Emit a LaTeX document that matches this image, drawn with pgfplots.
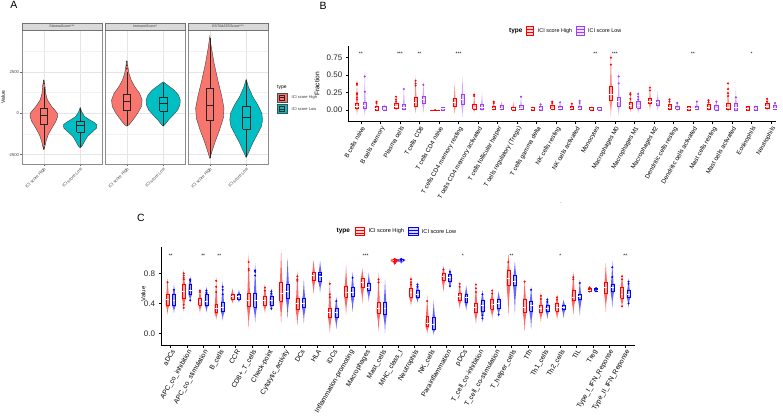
\documentclass[border=0pt]{standalone}
\usepackage{fontspec}
\setmainfont{Liberation Sans}
\usepackage{pgfplots}
\pgfplotsset{compat=1.18}
\newcommand\fs[1]{\fontsize{#1}{#1}\selectfont}
\definecolor{Ared}{HTML}{F8766D}
\definecolor{Acyan}{HTML}{00BFC4}
\definecolor{Bred}{HTML}{FF0000}
\definecolor{Bpur}{HTML}{9B40F5}
\definecolor{Cred}{HTML}{FF0000}
\definecolor{Cblue}{HTML}{0000FF}
\def\bw{0.1}
\def\vop{0.5}
% violin + box: #1 cat, #2 offset, #3 min, #4 q1, #5 med, #6 q3, #7 max, #8 colour, #9 violin half width
\newcommand\grp[9]{%
 \pgfmathsetmacro\gx{#1+#2}%
 \pgfmathsetmacro\gxa{\gx-#9}\pgfmathsetmacro\gxb{\gx+#9}%
 \pgfmathsetmacro\gxc{\gx-0.3*#9}\pgfmathsetmacro\gxd{\gx+0.3*#9}%
 \pgfmathsetmacro\gxe{\gx-0.7*#9}\pgfmathsetmacro\gxf{\gx+0.7*#9}%
 \pgfmathsetmacro\gya{(#3+#4)/2}\pgfmathsetmacro\gyb{(#6+#7)/2}%
 \pgfmathsetmacro\gbl{\gx-\bw}\pgfmathsetmacro\gbr{\gx+\bw}%
 \edef\gtmp{%
  \noexpand\addplot[fill=#8,fill opacity=\vop,draw=none,forget plot] coordinates {(\gx,#3) (\gxd,\gya) (\gxb,#4) (\gxb,#5) (\gxf,#6) (\gxd,\gyb) (\gx,#7) (\gxc,\gyb) (\gxe,#6) (\gxa,#5) (\gxa,#4) (\gxc,\gya) (\gx,#3)};
  \noexpand\addplot[fill=#8!30,draw=#8,line width=0.4pt,forget plot] coordinates {(\gbl,#4) (\gbr,#4) (\gbr,#6) (\gbl,#6) (\gbl,#4)};
  \noexpand\addplot[draw=white,line width=0.4pt,forget plot] coordinates {(\gbl,#5) (\gbr,#5)};
 }\gtmp}
% panel A box: x lo q1 med q3 hi
\newcommand\abx[6]{%
 \pgfmathsetmacro\axl{#1-0.1}\pgfmathsetmacro\axr{#1+0.1}%
 \edef\atmp{%
  \noexpand\addplot[black!85,line width=0.4pt,forget plot] coordinates {(#1,#2) (#1,#3)};
  \noexpand\addplot[black!85,line width=0.4pt,forget plot] coordinates {(#1,#5) (#1,#6)};
  \noexpand\addplot[black!85,line width=0.4pt,forget plot] coordinates {(\axl,#3) (\axr,#3) (\axr,#5) (\axl,#5) (\axl,#3)};
  \noexpand\addplot[black!85,line width=0.8pt,forget plot] coordinates {(\axl,#4) (\axr,#4)};
 }\atmp}
\pgfplotsset{
 afacet/.style={
  scale only axis, width=80pt, height=133.5pt, anchor=south west,
  xmin=0.4, xmax=2.6, ymin=-3069, ymax=5000,
  axis line style={draw=black!45, line width=0.5pt},
  xtick={1,2}, xticklabels={ICI score High,ICI score Low},
  xticklabel style={rotate=45, anchor=north east, font=\fs{4.2}, text=black!75, inner sep=1pt},
  ytick={-2500,0,2500}, minor ytick={-1250,1250,3750},
  yticklabels={-2500,0,2500},
  yticklabel style={font=\fs{4.2}, text=black!75, inner sep=1pt},
  xmajorgrids, ymajorgrids, yminorgrids,
  major grid style={draw=black!10, line width=0.5pt},
  minor grid style={draw=black!5, line width=0.3pt},
  tick align=outside, xtick pos=bottom, ytick pos=left,
  major tick length=1.8pt, minor tick length=0pt,
  tick style={draw=black!60, line width=0.4pt},
 },
 vio/.style={fill=#1, draw=black!75, line width=0.4pt, forget plot},
}
\begin{document}
\begin{tikzpicture}
\path[use as bounding box] (0,0) rectangle (783pt,418pt);
% ---------------- Panel A ----------------
\begin{axis}[afacet, at={(22pt,254pt)}]
\addplot[vio=Ared] coordinates {(1,-2200) (1.03,-2000) (1.06,-1700) (1.12,-1300) (1.22,-900) (1.33,-500) (1.38,-200) (1.37,0) (1.30,200) (1.22,400) (1.10,800) (1.05,1200) (1.03,1700) (1,2000) (0.97,1700) (0.95,1200) (0.90,800) (0.78,400) (0.70,200) (0.63,0) (0.62,-200) (0.67,-500) (0.78,-900) (0.88,-1300) (0.94,-1700) (0.97,-2000) (1,-2200)};
\addplot[vio=Acyan] coordinates {(2,-2100) (2.06,-1950) (2.12,-1700) (2.20,-1400) (2.35,-1100) (2.45,-900) (2.46,-700) (2.38,-550) (2.30,-450) (2.12,-200) (2.04,100) (2,350) (1.96,100) (1.88,-200) (1.70,-450) (1.62,-550) (1.54,-700) (1.55,-900) (1.65,-1100) (1.80,-1400) (1.88,-1700) (1.94,-1950) (2,-2100)};
\abx{1}{-1900}{-640}{-140}{300}{1600}
\abx{2}{-2050}{-1160}{-760}{-500}{300}
\addplot[only marks, mark=*, mark size=0.6pt, black!80, forget plot] coordinates {(1,1800) (1,1950) (1,-2050) (1,-2150)};
\end{axis}
\begin{axis}[afacet, at={(105pt,254pt)}, yticklabels={}, ytick style={draw=none}]
\addplot[vio=Ared] coordinates {(1,-780) (1.06,-700) (1.17,-400) (1.30,0) (1.40,400) (1.42,800) (1.35,1200) (1.22,1600) (1.12,2000) (1.06,2400) (1.03,2800) (1,3150) (0.97,2800) (0.94,2400) (0.88,2000) (0.78,1600) (0.65,1200) (0.58,800) (0.60,400) (0.70,0) (0.83,-400) (0.94,-700) (1,-780)};
\addplot[vio=Acyan] coordinates {(2,-780) (2.04,-700) (2.15,-400) (2.28,-100) (2.40,200) (2.46,500) (2.47,800) (2.42,1100) (2.30,1400) (2.15,1650) (2.06,1800) (2,1900) (1.94,1800) (1.85,1650) (1.70,1400) (1.58,1100) (1.53,800) (1.54,500) (1.60,200) (1.72,-100) (1.85,-400) (1.96,-700) (2,-780)};
\abx{1}{-750}{200}{700}{1165}{2500}
\abx{2}{-750}{140}{600}{940}{1850}
\addplot[only marks, mark=*, mark size=0.6pt, black!80, forget plot] coordinates {(1,2700) (1,2900) (1,3100)};
\end{axis}
\begin{axis}[afacet, at={(188pt,254pt)}, yticklabels={}, ytick style={draw=none}]
\addplot[vio=Ared] coordinates {(1,-2740) (1.06,-2300) (1.15,-1700) (1.27,-1000) (1.37,-300) (1.39,300) (1.33,1000) (1.22,2000) (1.12,3000) (1.04,4000) (1,4650) (0.96,4000) (0.88,3000) (0.78,2000) (0.67,1000) (0.61,300) (0.63,-300) (0.73,-1000) (0.85,-1700) (0.94,-2300) (1,-2740)};
\addplot[vio=Acyan] coordinates {(2,-2680) (2.08,-2300) (2.18,-1800) (2.30,-1300) (2.42,-800) (2.45,-400) (2.43,0) (2.32,500) (2.18,1000) (2.06,1600) (2,2050) (1.94,1600) (1.82,1000) (1.68,500) (1.57,0) (1.55,-400) (1.58,-800) (1.70,-1300) (1.82,-1800) (1.92,-2300) (2,-2680)};
\abx{1}{-2700}{-450}{500}{1500}{4550}
\abx{2}{-2650}{-960}{-240}{400}{2000}
\end{axis}
% strips
\foreach \xa/\xb in {22/102, 105/185, 188/268}{
 \draw[fill=black!15, draw=black!55, line width=0.4pt] (\xa pt,387.5pt) rectangle (\xb pt,395pt);
}
\node[font=\fs{3.6}, text=black!75] at (62pt,391.25pt) {StromaScore***};
\node[font=\fs{3.6}, text=black!75] at (145pt,391.25pt) {ImmuneScore*};
\node[font=\fs{3.6}, text=black!75] at (228pt,391.25pt) {ESTIMATEScore***};
\node[font=\fs{5}, rotate=90] at (3pt,321pt) {Value};
% legend A
\node[font=\fs{5}, anchor=west, inner sep=0pt] at (277pt,330.5pt) {type};
\draw[fill=Ared, draw=black!70, line width=0.3pt] (277pt,316pt) rectangle (287pt,325.3pt);
\draw[black!85, line width=0.3pt] (279.5pt,318pt) rectangle (284.5pt,323.3pt) (279.5pt,320.6pt) -- (284.5pt,320.6pt);
\draw[fill=Acyan, draw=black!70, line width=0.3pt] (277pt,304.7pt) rectangle (287pt,314pt);
\draw[black!85, line width=0.3pt] (279.5pt,306.7pt) rectangle (284.5pt,312pt) (279.5pt,309.3pt) -- (284.5pt,309.3pt);
\node[font=\fs{4}, anchor=west, inner sep=0pt, text=black!80] at (291.5pt,320.6pt) {ICI score High};
\node[font=\fs{4}, anchor=west, inner sep=0pt, text=black!80] at (291.5pt,309.3pt) {ICI score Low};
% ---------------- Panel B ----------------
\begin{axis}[scale only axis, at={(348.3pt,296.3pt)}, anchor=south west,
 width=427.7pt, height=75.7pt, xmin=0.355, xmax=22.255, ymin=-0.168, ymax=0.917,
 axis lines*=left, axis line style={-, black, line width=0.6pt},
 tick align=outside, major tick length=2.5pt, tick style={black, line width=0.5pt},
 /pgf/number format/assume math mode=true,
 xtick={1,...,22},
 xticklabels={B cells naive, B cells memory, Plasma cells, T cells CD8, T cells CD4 naive, T cells CD4 memory resting, T cells CD4 memory activated, T cells follicular helper, T cells regulatory (Tregs), T cells gamma delta, NK cells resting, NK cells activated, Monocytes, Macrophages M0, Macrophages M1, Macrophages M2, Dendritic cells resting, Dendritic cells activated, Mast cells resting, Mast cells activated, Eosinophils, Neutrophils},
 xticklabel style={rotate=60, anchor=north east, font=\fs{6.2}, inner sep=1pt},
 ytick={0,0.25,0.5,0.75},
 yticklabel style={font=\fs{8}, text=black!85, /pgf/number format/.cd, fixed, fixed zerofill, precision=2},
 clip=false]
\def\bw{0.085}\def\vop{0.45}
\grp{1}{-0.2}{-0.07}{0.03}{0.05}{0.10}{0.43}{Bred}{0.06}
\grp{1}{0.2}{-0.08}{0.02}{0.07}{0.11}{0.55}{Bpur}{0.06}
\grp{2}{-0.2}{-0.02}{0.00}{0.02}{0.06}{0.13}{Bred}{0.06}
\grp{2}{0.2}{-0.02}{0.00}{0.03}{0.06}{0.08}{Bpur}{0.06}
\grp{3}{-0.2}{-0.01}{0.02}{0.05}{0.10}{0.20}{Bred}{0.06}
\grp{3}{0.2}{-0.02}{0.01}{0.04}{0.08}{0.36}{Bpur}{0.06}
\grp{4}{-0.2}{-0.05}{0.06}{0.11}{0.19}{0.50}{Bred}{0.06}
\grp{4}{0.2}{-0.05}{0.09}{0.15}{0.20}{0.43}{Bpur}{0.06}
\addplot[Bred, line width=0.7pt, forget plot] coordinates {(4.55,0) (5.05,0)};
\grp{5}{0.2}{-0.01}{0.00}{0.02}{0.04}{0.05}{Bpur}{0.06}
\grp{6}{-0.2}{-0.06}{0.06}{0.11}{0.17}{0.38}{Bred}{0.06}
\grp{6}{0.2}{-0.11}{0.08}{0.15}{0.22}{0.49}{Bpur}{0.06}
\grp{7}{-0.2}{-0.04}{0.01}{0.04}{0.08}{0.27}{Bred}{0.06}
\grp{7}{0.2}{-0.03}{0.01}{0.04}{0.08}{0.26}{Bpur}{0.06}
\grp{8}{-0.2}{-0.01}{0.01}{0.03}{0.06}{0.13}{Bred}{0.06}
\grp{8}{0.2}{-0.01}{0.01}{0.03}{0.07}{0.13}{Bpur}{0.06}
\grp{9}{-0.2}{-0.01}{0.00}{0.02}{0.04}{0.12}{Bred}{0.06}
\grp{9}{0.2}{-0.01}{0.01}{0.03}{0.07}{0.20}{Bpur}{0.06}
\grp{10}{-0.2}{-0.01}{0.00}{0.02}{0.04}{0.05}{Bred}{0.06}
\grp{10}{0.2}{-0.01}{0.00}{0.02}{0.05}{0.09}{Bpur}{0.06}
\grp{11}{-0.2}{-0.01}{0.01}{0.03}{0.07}{0.13}{Bred}{0.06}
\grp{11}{0.2}{-0.02}{0.01}{0.03}{0.06}{0.12}{Bpur}{0.06}
\grp{12}{-0.2}{-0.01}{0.01}{0.03}{0.06}{0.10}{Bred}{0.06}
\grp{12}{0.2}{-0.01}{0.01}{0.03}{0.06}{0.16}{Bpur}{0.06}
\grp{13}{-0.2}{0.00}{0.00}{0.02}{0.04}{0.05}{Bred}{0.06}
\grp{13}{0.2}{0.00}{0.00}{0.02}{0.04}{0.05}{Bpur}{0.06}
\grp{14}{-0.2}{-0.12}{0.14}{0.22}{0.34}{0.88}{Bred}{0.07}
\grp{14}{0.2}{-0.08}{0.06}{0.12}{0.18}{0.57}{Bpur}{0.06}
\grp{15}{-0.2}{-0.03}{0.03}{0.07}{0.11}{0.27}{Bred}{0.06}
\grp{15}{0.2}{-0.05}{0.03}{0.07}{0.12}{0.27}{Bpur}{0.06}
\grp{16}{-0.2}{-0.01}{0.09}{0.12}{0.17}{0.37}{Bred}{0.06}
\grp{16}{0.2}{-0.02}{0.07}{0.11}{0.14}{0.27}{Bpur}{0.06}
\grp{17}{-0.2}{-0.01}{0.01}{0.04}{0.08}{0.17}{Bred}{0.06}
\grp{17}{0.2}{-0.02}{0.01}{0.03}{0.06}{0.12}{Bpur}{0.06}
\grp{18}{-0.2}{-0.01}{0.00}{0.02}{0.05}{0.06}{Bred}{0.06}
\grp{18}{0.2}{-0.01}{0.01}{0.03}{0.06}{0.14}{Bpur}{0.06}
\grp{19}{-0.2}{-0.01}{0.01}{0.04}{0.08}{0.16}{Bred}{0.06}
\grp{19}{0.2}{-0.02}{0.00}{0.03}{0.07}{0.15}{Bpur}{0.06}
\grp{20}{-0.2}{-0.03}{0.01}{0.04}{0.10}{0.43}{Bred}{0.06}
\grp{20}{0.2}{-0.03}{0.00}{0.04}{0.09}{0.32}{Bpur}{0.06}
\grp{21}{-0.2}{0.00}{0.00}{0.02}{0.05}{0.06}{Bred}{0.06}
\grp{21}{0.2}{0.00}{0.00}{0.02}{0.05}{0.07}{Bpur}{0.06}
\grp{22}{-0.2}{-0.01}{0.02}{0.05}{0.09}{0.18}{Bred}{0.06}
\grp{22}{0.2}{-0.01}{0.01}{0.03}{0.07}{0.12}{Bpur}{0.06}
\addplot[only marks, mark=*, mark size=0.8pt, Bred, forget plot] coordinates {(0.8,0.38)(0.8,0.36)(0.8,0.24)(0.8,0.22)(0.8,0.18)(0.8,0.15)(1.8,0.12)(1.8,0.10)(2.8,0.19)(2.8,0.15)(2.8,0.12)(3.8,0.42)(3.8,0.38)(3.8,0.35)(4.8,0)(6.8,0.22)(6.8,0.20)(7.8,0.12)(7.8,0.10)(10.8,0.12)(10.8,0.10)(11.8,0.09)(13.8,0.75)(13.8,0.65)(14.8,0.24)(14.8,0.22)(14.8,0.16)(15.8,0.32)(15.8,0.28)(16.8,0.15)(16.8,0.12)(18.8,0.14)(18.8,0.11)(19.8,0.38)(19.8,0.30)(19.8,0.24)(19.8,0.20)(21.8,0.16)(21.8,0.12)};
\addplot[only marks, mark=*, mark size=0.8pt, Bpur, forget plot] coordinates {(1.2,0.48)(1.2,0.26)(3.2,0.30)(4.2,0.36)(9.2,0.19)(10.2,0.08)(11.2,0.11)(12.2,0.13)(12.2,0.10)(14.2,0.48)(14.2,0.38)(15.2,0.23)(15.2,0.19)(15.2,0.15)(17.2,0.10)(18.2,0.12)(19.2,0.12)(20.2,0.18)(22.2,0.10)};
\foreach \xs/\st in {1/**,3/***,4/**,6/***,13/**,14/***,18/**,21/*}{
 \edef\tmp{\noexpand\node[font=\noexpand\fs{5}] at (axis cs:\xs,0.80) {\st};}\tmp
}
\end{axis}
\node[font=\fs{6.6}, rotate=90] at (317pt,334pt) {Fraction};
\node[font=\bfseries\fs{6.5}, anchor=west, inner sep=0pt] at (509pt,387pt) {type};
\draw[Bred, line width=0.6pt, fill=Bred!15] (526pt,382.7pt) rectangle (533pt,391.3pt);
\draw[Bred, line width=0.4pt] (526pt,385.5pt) -- (533pt,385.5pt) (526pt,388.5pt) -- (533pt,388.5pt);
\node[font=\fs{5.4}, anchor=west, inner sep=0pt] at (537.7pt,387pt) {ICI score High};
\draw[Bpur, line width=0.6pt, fill=Bpur!15] (576pt,382.7pt) rectangle (584pt,391.3pt);
\draw[Bpur, line width=0.4pt] (576pt,385.5pt) -- (584pt,385.5pt) (576pt,388.5pt) -- (584pt,388.5pt);
\node[font=\fs{5.4}, anchor=west, inner sep=0pt] at (588pt,387pt) {ICI score Low};
\node[font=\fs{5}] at (561pt,215pt) {.};
% ---------------- Panel C ----------------
\begin{axis}[scale only axis, at={(161pt,73pt)}, anchor=south west,
 width=474pt, height=98.3pt, xmin=0.4, xmax=29.6, ymin=-0.156, ymax=1.155,
 axis lines*=left, axis line style={-, black, line width=0.6pt},
 tick align=outside, major tick length=2.5pt, tick style={black, line width=0.5pt},
 /pgf/number format/assume math mode=true,
 xtick={1,...,29},
 xticklabels={aDCs, APC\_co\_inhibition, APC\_co\_stimulation, B\_cells, CCR, CD8+\_T\_cells, Check-point, Cytolytic\_activity, DCs, HLA, iDCs, Inflammation-promoting, Macrophages, Mast\_cells, MHC\_class\_I, Neutrophils, NK\_cells, Parainflammation, pDCs, T\_cell\_co-inhibition, T\_cell\_co-stimulation, T\_helper\_cells, Tfh, Th1\_cells, Th2\_cells, TIL, Treg, Type\_I\_IFN\_Reponse, Type\_II\_IFN\_Reponse},
 xticklabel style={rotate=60, anchor=north east, font=\fs{6.8}, inner sep=1pt},
 ytick={0,0.4,0.8},
 yticklabel style={font=\fs{8}, text=black!85, /pgf/number format/.cd, fixed, fixed zerofill, precision=1},
 clip=false]
\def\bw{0.09}\def\vop{0.6}
\grp{1}{-0.2}{0.25}{0.38}{0.45}{0.52}{0.73}{Cred}{0.11}
\grp{1}{0.2}{0.27}{0.37}{0.44}{0.52}{0.65}{Cblue}{0.11}
\grp{2}{-0.2}{0.29}{0.47}{0.56}{0.65}{0.85}{Cred}{0.11}
\grp{2}{0.2}{0.42}{0.52}{0.58}{0.66}{0.75}{Cblue}{0.11}
\grp{3}{-0.2}{0.27}{0.38}{0.43}{0.47}{0.60}{Cred}{0.11}
\grp{3}{0.2}{0.28}{0.38}{0.43}{0.52}{0.62}{Cblue}{0.11}
\grp{4}{-0.2}{0.18}{0.28}{0.33}{0.39}{0.75}{Cred}{0.11}
\grp{4}{0.2}{0.17}{0.29}{0.35}{0.42}{0.70}{Cblue}{0.11}
\grp{5}{-0.2}{0.40}{0.46}{0.49}{0.52}{0.60}{Cred}{0.11}
\grp{5}{0.2}{0.41}{0.46}{0.49}{0.52}{0.58}{Cblue}{0.11}
\grp{6}{-0.2}{0.06}{0.36}{0.44}{0.54}{1.07}{Cred}{0.11}
\grp{6}{0.2}{0.14}{0.35}{0.44}{0.53}{0.94}{Cblue}{0.11}
\grp{7}{-0.2}{0.27}{0.38}{0.44}{0.50}{0.66}{Cred}{0.11}
\grp{7}{0.2}{0.30}{0.38}{0.44}{0.50}{0.60}{Cblue}{0.11}
\grp{8}{-0.2}{0.12}{0.43}{0.54}{0.68}{1.12}{Cred}{0.11}
\grp{8}{0.2}{0.19}{0.47}{0.56}{0.66}{1.01}{Cblue}{0.11}
\grp{9}{-0.2}{0.10}{0.32}{0.40}{0.47}{0.84}{Cred}{0.11}
\grp{9}{0.2}{0.13}{0.35}{0.40}{0.47}{0.72}{Cblue}{0.11}
\grp{10}{-0.2}{0.52}{0.71}{0.77}{0.82}{0.98}{Cred}{0.11}
\grp{10}{0.2}{0.54}{0.69}{0.76}{0.82}{0.97}{Cblue}{0.11}
\grp{11}{-0.2}{0.00}{0.21}{0.28}{0.34}{0.72}{Cred}{0.11}
\grp{11}{0.2}{0.05}{0.22}{0.28}{0.34}{0.49}{Cblue}{0.11}
\grp{12}{-0.2}{0.24}{0.48}{0.55}{0.63}{0.91}{Cred}{0.11}
\grp{12}{0.2}{0.28}{0.49}{0.55}{0.62}{0.82}{Cblue}{0.11}
\grp{13}{-0.2}{0.40}{0.61}{0.68}{0.74}{0.87}{Cred}{0.11}
\grp{13}{0.2}{0.42}{0.57}{0.62}{0.67}{0.81}{Cblue}{0.11}
\grp{14}{-0.2}{0.03}{0.27}{0.34}{0.42}{0.81}{Cred}{0.11}
\grp{14}{0.2}{0.00}{0.25}{0.33}{0.42}{0.72}{Cblue}{0.11}
\grp{15}{-0.2}{0.92}{0.96}{0.98}{0.99}{1.00}{Cred}{0.25}
\grp{15}{0.2}{0.93}{0.97}{0.98}{0.99}{1.00}{Cblue}{0.25}
\grp{16}{-0.2}{0.36}{0.48}{0.55}{0.60}{0.77}{Cred}{0.11}
\grp{16}{0.2}{0.41}{0.48}{0.52}{0.58}{0.68}{Cblue}{0.11}
\grp{17}{-0.2}{0.00}{0.09}{0.13}{0.23}{0.50}{Cred}{0.11}
\grp{17}{0.2}{-0.02}{0.06}{0.12}{0.21}{0.44}{Cblue}{0.11}
\grp{18}{-0.2}{0.55}{0.71}{0.76}{0.80}{0.90}{Cred}{0.11}
\grp{18}{0.2}{0.59}{0.70}{0.75}{0.79}{0.87}{Cblue}{0.11}
\grp{19}{-0.2}{0.33}{0.44}{0.49}{0.53}{0.69}{Cred}{0.11}
\grp{19}{0.2}{0.30}{0.42}{0.48}{0.52}{0.64}{Cblue}{0.11}
\grp{20}{-0.2}{0.12}{0.28}{0.35}{0.40}{0.68}{Cred}{0.11}
\grp{20}{0.2}{0.14}{0.30}{0.37}{0.44}{0.58}{Cblue}{0.11}
\grp{21}{-0.2}{0.19}{0.32}{0.39}{0.45}{0.60}{Cred}{0.11}
\grp{21}{0.2}{0.21}{0.34}{0.40}{0.46}{0.56}{Cblue}{0.11}
\grp{22}{-0.2}{0.22}{0.64}{0.73}{0.84}{1.07}{Cred}{0.11}
\grp{22}{0.2}{0.25}{0.64}{0.70}{0.78}{0.96}{Cblue}{0.11}
\grp{23}{-0.2}{0.02}{0.28}{0.35}{0.45}{0.72}{Cred}{0.11}
\grp{23}{0.2}{0.05}{0.30}{0.38}{0.43}{0.63}{Cblue}{0.11}
\grp{24}{-0.2}{0.15}{0.28}{0.33}{0.38}{0.55}{Cred}{0.11}
\grp{24}{0.2}{0.19}{0.30}{0.34}{0.38}{0.48}{Cblue}{0.11}
\grp{25}{-0.2}{0.18}{0.30}{0.35}{0.40}{0.53}{Cred}{0.11}
\grp{25}{0.2}{0.20}{0.32}{0.35}{0.38}{0.45}{Cblue}{0.11}
\grp{26}{-0.2}{0.24}{0.44}{0.48}{0.57}{0.83}{Cred}{0.11}
\grp{26}{0.2}{0.23}{0.45}{0.49}{0.52}{0.72}{Cblue}{0.11}
\grp{27}{-0.2}{0.54}{0.56}{0.58}{0.60}{0.63}{Cred}{0.11}
\grp{27}{0.2}{0.55}{0.56}{0.58}{0.60}{0.62}{Cblue}{0.11}
\grp{28}{-0.2}{0.28}{0.54}{0.61}{0.68}{0.94}{Cred}{0.11}
\grp{28}{0.2}{0.34}{0.56}{0.61}{0.66}{0.97}{Cblue}{0.11}
\grp{29}{-0.2}{0.33}{0.47}{0.52}{0.62}{0.79}{Cred}{0.11}
\grp{29}{0.2}{0.34}{0.48}{0.52}{0.58}{0.73}{Cblue}{0.11}
\addplot[only marks, mark=*, mark size=0.8pt, Cred, forget plot] coordinates {(0.8,0.68)(1.8,0.80)(1.8,0.77)(1.8,0.74)(1.8,0.72)(1.8,0.38)(1.8,0.34)(2.8,0.57)(2.8,0.55)(3.8,0.70)(3.8,0.62)(3.8,0.55)(5.8,0.95)(5.8,0.86)(5.8,0.84)(6.8,0.61)(6.8,0.57)(8.8,0.76)(8.8,0.72)(8.8,0.70)(10.8,0.66)(10.8,0.52)(10.8,0.48)(13.8,0.72)(13.8,0.68)(14.8,0.99)(14.8,0.97)(14.8,0.95)(14.8,0.93)(15.8,0.72)(15.8,0.68)(15.8,0.65)(16.8,0.43)(17.8,0.85)(18.8,0.66)(18.8,0.62)(19.8,0.65)(19.8,0.60)(19.8,0.55)(20.8,0.57)(20.8,0.53)(21.8,0.95)(22.8,0.69)(23.8,0.50)(23.8,0.46)(24.8,0.48)(24.8,0.45)(25.8,0.75)(25.8,0.72)(26.8,0.61)(26.8,0.59)(28.8,0.76)(28.8,0.72)(28.8,0.36)};
\addplot[only marks, mark=*, mark size=0.8pt, Cblue, forget plot] coordinates {(1.2,0.58)(2.2,0.72)(2.2,0.70)(2.2,0.44)(3.2,0.57)(3.2,0.54)(4.2,0.62)(4.2,0.58)(4.2,0.52)(6.2,0.84)(6.2,0.82)(6.2,0.77)(7.2,0.56)(7.2,0.53)(7.2,0.33)(10.2,0.78)(11.2,0.43)(12.2,0.74)(15.2,0.99)(15.2,0.97)(16.2,0.65)(16.2,0.62)(18.2,0.63)(18.2,0.82)(20.2,0.52)(20.2,0.24)(20.2,0.20)(21.2,0.25)(23.2,0.58)(24.2,0.45)(24.2,0.42)(26.2,0.67)(27.2,0.60)(27.2,0.58)(28.2,0.88)(28.2,0.75)(29.2,0.69)(29.2,0.66)(29.2,0.40)};
\foreach \xs/\st in {1/**,3/**,4/**,13/***,19/*,22/**,25/*,29/**}{
 \edef\tmp{\noexpand\node[font=\noexpand\fs{5}] at (axis cs:\xs,1.04) {\st};}\tmp
}
\end{axis}
\node[font=\fs{5.9}, rotate=90] at (143.3pt,124pt) {Value};
\node[font=\bfseries\fs{6.5}, anchor=west, inner sep=0pt] at (336.5pt,186.5pt) {type};
\draw[Cred, line width=0.6pt, fill=Cred!15] (355pt,182.3pt) rectangle (364.3pt,190.7pt);
\draw[Cred, line width=0.4pt] (355pt,185pt) -- (364.3pt,185pt) (355pt,188pt) -- (364.3pt,188pt);
\node[font=\fs{5.6}, anchor=west, inner sep=0pt] at (368.3pt,186.5pt) {ICI score High};
\draw[Cblue, line width=0.6pt, fill=Cblue!15] (408.3pt,182.3pt) rectangle (418pt,190.7pt);
\draw[Cblue, line width=0.4pt] (408.3pt,185pt) -- (418pt,185pt) (408.3pt,188pt) -- (418pt,188pt);
\node[font=\fs{5.6}, anchor=west, inner sep=0pt] at (421.7pt,186.5pt) {ICI score Low};
% panel letters
\node[font=\fs{10.5}] at (14pt,413pt) {A};
\node[font=\fs{10.5}] at (323pt,412.5pt) {B};
\node[font=\fs{10.5}] at (141pt,200pt) {C};
\end{tikzpicture}
\end{document}
